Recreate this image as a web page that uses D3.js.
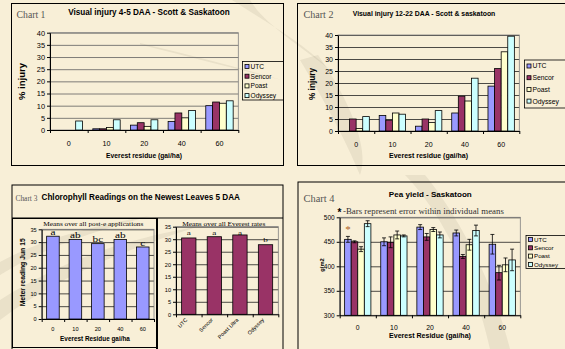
<!DOCTYPE html>
<html><head><meta charset="utf-8">
<script src="https://cdn.jsdelivr.net/npm/d3@7"></script>
<style>
html,body{margin:0;padding:0;background:#f8efd7;overflow:hidden;}
svg{display:block;}
</style></head><body>
<svg id="c" width="565" height="349"></svg>
<script>
// ---- data ----
const treatments = ["UTC", "Sencor", "Poast", "Odyssey"];
const treatmentFills = ["#9999ff", "#993366", "#ffffcc", "#ccffff"];
const residueRates = ["0", "10", "20", "40", "60"];

// Chart 1: visual injury 4-5 DAA (%)
const early_UTC = [0, 0.5, 2, 3.5, 10];
const early_Sencor = [0, 0.5, 3, 7, 11.5];
const early_Poast = [0, 1, 1.5, 5, 11];
const early_Odyssey = [3.7, 4.2, 4.2, 8, 12];

// Chart 2: visual injury 12-22 DAA (%)
const late_UTC = [0, 6.5, 2, 7.5, 18.7];
const late_Sencor = [5, 4.5, 5, 14.5, 26];
const late_Poast = [1, 7.5, 3.5, 12.5, 33];
const late_Odyssey = [6, 7, 8.5, 22, 39.5];

// Chart 3: chlorophyll meter readings
const chloroByRate = [32.3, 31, 29.4, 31, 28.1];
const chloroRateLetters = ["a", "ab", "bc", "ab", "c"];
const herbicides = ["UTC", "Sencor", "Poast Ultra", "Odyssey"];
const chloroByHerbicide = [30.5, 31, 31.7, 27.8];
const chloroHerbLetters = ["a", "a", "a", "b"];

// Chart 4: pea yield (g/m2) with error
const yield_UTC = [455, 450, 480, 468, 445];
const yield_Sencor = [450, 449, 460, 420, 387];
const yield_Poast = [435, 464, 475, 444, 403];
const yield_Odyssey = [487, 462, 464, 473, 413];
const yieldErr_UTC = [6, 8, 5, 6, 20];
const yieldErr_Sencor = [2, 11, 7, 4, 15];
const yieldErr_Poast = [5, 8, 4, 11, 14];
const yieldErr_Odyssey = [6, 2, 6, 11, 22];

const injuryTicks = [0, 5, 10, 15, 20, 25, 30, 35, 40];
const chloroTicks = [0, 5, 10, 15, 20, 25, 30, 35];
const yieldTicks = [300, 350, 400, 450, 500];

// ---- drawing ----
const SANS = "'Liberation Sans', Arial, sans-serif";
const SERIF = "'Liberation Serif', 'Times New Roman', serif";
const svg = d3.select("#c");

// soft background swooshes
const bg = svg.append("g").attr("fill", "#8a8070");
[
  "M232,0 C262,20 300,40 330,70 C300,45 265,25 250,0 Z",
  "M300,60 C330,110 350,150 360,175 C370,150 350,100 318,55 Z",
  "M0,300 C60,262 120,240 200,226 C130,248 60,275 0,320 Z",
  "M0,262 C40,240 90,226 150,216 C90,232 40,250 0,275 Z",
  "M405,175 C430,200 470,260 490,349 L510,349 C490,270 450,205 425,175 Z",
  "M140,43 C190,55 240,68 282,80 C240,70 190,57 140,44.5 Z"
].forEach(d => bg.append("path").attr("d", d).attr("opacity", 0.13));

function txt(g, x, y, s, size, opts = {}) {
  const t = g.append("text").attr("x", x).attr("y", y).text(s)
    .attr("font-family", opts.serif ? SERIF : SANS)
    .attr("font-size", size)
    .attr("font-weight", opts.bold ? "bold" : "normal")
    .attr("text-anchor", opts.anchor || "start")
    .attr("fill", opts.fill || "#000");
  if (opts.width) {
    const L = t.node().getComputedTextLength();
    t.attr("font-size", size * opts.width / L);
  }
  if (opts.stretchTo || opts.sx) {
    // keep the glyph height, widen horizontally
    const L = t.node().getComputedTextLength();
    const k = opts.sx || opts.stretchTo / L;
    t.attr("x", 0).attr("y", 0).attr("transform", `translate(${x},${y}) scale(${k},1)`);
  }
  return t;
}

function frame(g, x, y, w, h, sw = 1, stroke = "#000") {
  g.append("rect").attr("x", x).attr("y", y).attr("width", w).attr("height", h)
    .attr("fill", "none").attr("stroke", stroke).attr("stroke-width", sw);
}

// generic bar panel: series = [{name, values, fill, err}]
function barPanel(g, o) {
  const y = d3.scaleLinear().domain([o.ticks[0], o.ticks[o.ticks.length - 1]]).range([o.yBot, o.yTop]);
  const x = d3.scaleBand().domain(o.cats).range([o.x0, o.x1]);
  if (o.catPad) x.paddingInner(o.catPad).paddingOuter(o.catPad / 2);
  const xs = d3.scaleBand().domain(o.series.map(s => s.name)).range([0, x.bandwidth()])
    .paddingInner(0).paddingOuter(o.outer);

  // gridlines
  g.append("g").attr("transform", `translate(${o.x0},0)`)
    .call(d3.axisLeft(y).tickValues(o.ticks.slice(1)).tickSize(-(o.x1 - o.x0)).tickFormat(""))
    .call(a => a.select(".domain").remove())
    .selectAll("line").attr("stroke", o.grid || "#404040").attr("stroke-width", 0.8);
  // plot frame
  g.append("rect").attr("x", o.x0).attr("y", o.yTop).attr("width", o.x1 - o.x0)
    .attr("height", o.yBot - o.yTop).attr("fill", "none").attr("stroke", "#808080").attr("stroke-width", 0.8);

  // bars
  o.series.forEach(s => {
    const idx = s.values.map((v, i) => i).filter(i => s.values[i] > o.ticks[0]);
    g.append("g").selectAll("rect").data(idx).join("rect")
      .attr("x", i => x(o.cats[i]) + xs(s.name))
      .attr("y", i => y(s.values[i]))
      .attr("width", xs.bandwidth())
      .attr("height", i => o.yBot - y(s.values[i]))
      .attr("fill", s.fill).attr("stroke", "#000").attr("stroke-width", 0.8);
    if (s.err) {
      const eg = g.append("g").attr("stroke", "#000").attr("stroke-width", 0.8);
      idx.forEach(i => {
        const cx = x(o.cats[i]) + xs(s.name) + xs.bandwidth() / 2;
        const lo = y(s.values[i] - s.err[i]), hi = y(s.values[i] + s.err[i]);
        eg.append("line").attr("x1", cx).attr("x2", cx).attr("y1", lo).attr("y2", hi);
        eg.append("line").attr("x1", cx - 2).attr("x2", cx + 2).attr("y1", lo).attr("y2", lo);
        eg.append("line").attr("x1", cx - 2).attr("x2", cx + 2).attr("y1", hi).attr("y2", hi);
      });
    }
  });

  // y axis
  const ya = g.append("g").attr("transform", `translate(${o.x0},0)`)
    .call(d3.axisLeft(y).tickValues(o.ticks).tickSize(3).tickSizeOuter(0).tickPadding(o.yPad || 2));
  ya.attr("font-family", SANS).attr("font-size", o.yFont);
  ya.selectAll("path,line").attr("stroke", "#000");

  // x axis: boundary tick marks
  const xb = d3.scaleLinear().domain([0, o.cats.length]).range([o.x0, o.x1]);
  const xa = g.append("g").attr("transform", `translate(0,${o.yBot})`)
    .call(d3.axisBottom(xb).tickValues(d3.range(o.cats.length + 1)).tickSize(3).tickSizeOuter(0).tickFormat(""));
  xa.selectAll("path,line").attr("stroke", "#000");
  // category labels
  if (o.rotate) {
    o.cats.forEach(c => {
      txt(g, 0, 0, c, o.xFont, { anchor: "end" })
        .attr("transform", `translate(${x(c) + x.bandwidth() / 2 - 1},${o.yBot + o.xPad}) rotate(-45)`);
    });
  } else {
    const xl = g.append("g").attr("transform", `translate(0,${o.yBot})`)
      .call(d3.axisBottom(x).tickSize(0).tickPadding(o.xPad));
    xl.select(".domain").remove();
    xl.attr("font-family", SANS).attr("font-size", o.xFont);
  }
  return { x, y, xs };
}

function legend(g, x, y, w, h, pitch, fontSize, first) {
  g.append("rect").attr("x", x).attr("y", y).attr("width", w).attr("height", h)
    .attr("fill", "none").attr("stroke", "#000").attr("stroke-width", 0.8);
  treatments.forEach((t, i) => {
    const cy = first + i * pitch;
    g.append("rect").attr("x", x + 2.5).attr("y", cy - 2).attr("width", 4).attr("height", 4)
      .attr("fill", treatmentFills[i]).attr("stroke", "#000").attr("stroke-width", 0.8);
    txt(g, x + 8, cy + fontSize * 0.36, t, fontSize);
  });
}

function seriesOf(vals, errs) {
  return treatments.map((t, i) => ({ name: t, values: vals[i], fill: treatmentFills[i], err: errs ? errs[i] : null }));
}

// ---- Chart 1 ----
{
  const g = svg.append("g");
  frame(g, 11.5, 3.5, 272, 162);
  txt(g, 16.5, 18.3, "Chart 1", 8.5, { serif: true, fill: "#555", width: 29 });
  txt(g, 149, 15, "Visual injury 4-5 DAA - Scott & Saskatoon", 7, { bold: true, anchor: "middle", width: 162 });
  barPanel(g, {
    x0: 50, x1: 238.3, yTop: 32.7, yBot: 130, ticks: injuryTicks, cats: residueRates, outer: 0.75,
    series: seriesOf([early_UTC, early_Sencor, early_Poast, early_Odyssey]),
    yFont: 7.4, xFont: 7.2, xPad: 11, grid: "#606060"
  });
  txt(g, 144, 157.5, "Everest residue (gai/ha)", 6, { bold: true, anchor: "middle", width: 76 });
  txt(g, 0, 0, "% injury", 8, { bold: true, anchor: "middle", width: 37 })
    .attr("transform", "translate(24.5,81.5) rotate(-90)");
  legend(g, 242.5, 61.5, 41, 38.5, 9.7, 6.6, 66.5);
}

// ---- Chart 2 ----
{
  const g = svg.append("g");
  frame(g, 297.5, 3.5, 272, 162);
  txt(g, 303.5, 18.3, "Chart 2", 8.5, { serif: true, fill: "#555", width: 30 });
  txt(g, 424, 16, "Visual injury 12-22 DAA - Scott & saskatoon", 7, { bold: true, anchor: "middle", width: 142.6 });
  barPanel(g, {
    x0: 338, x1: 519.3, yTop: 35, yBot: 131, ticks: injuryTicks, cats: residueRates, outer: 0.75,
    series: seriesOf([late_UTC, late_Sencor, late_Poast, late_Odyssey]),
    yFont: 7, xFont: 7, xPad: 11.5, grid: "#202020"
  });
  txt(g, 428.5, 157.5, "Everest residue (gai/ha)", 6, { bold: true, anchor: "middle", width: 79 });
  txt(g, 0, 0, "% injury", 7, { bold: true, anchor: "middle", width: 32 })
    .attr("transform", "translate(315,84) rotate(-90)");
  legend(g, 524.5, 60, 44, 48, 11.7, 6.8, 66);
}

// ---- Chart 3 ----
{
  const g = svg.append("g");
  frame(g, 12, 185, 271, 170);
  g.append("line").attr("x1", 12).attr("x2", 283).attr("y1", 218).attr("y2", 218).attr("stroke", "#000");
  frame(g, 12.5, 218.5, 144.5, 129);
  g.append("line").attr("x1", 157).attr("x2", 157).attr("y1", 218).attr("y2", 349)
    .attr("stroke", "#000").attr("stroke-width", 2);
  txt(g, 15.5, 200.5, "Chart 3", 7, { serif: true, fill: "#555", width: 22 });
  txt(g, 41.5, 200, "Chlorophyll Readings on the Newest Leaves 5 DAA", 6.8, { bold: true, width: 199 });

  // left: means over all post-e applications
  const L = barPanel(g, {
    x0: 41.7, x1: 154, yTop: 229.3, yBot: 319, ticks: chloroTicks, cats: residueRates, outer: 0, catPad: 0.44,
    series: [{ name: "m", values: chloroByRate, fill: "#9999ff" }],
    yFont: 5.6, xFont: 5.6, xPad: 8, grid: "#202020"
  });
  txt(g, 93.3, 226.3, "Means over all post-e applications", 5.4, { serif: true, anchor: "middle", stretchTo: 100 });
  chloroRateLetters.forEach((s, i) => {
    txt(g, L.x(residueRates[i]) + L.x.bandwidth() / 2, L.y(chloroByRate[i]) - 1.3, s, 7.5, { serif: true, anchor: "middle", sx: 1.5 });
  });
  txt(g, 95, 340.5, "Everest Residue gai/ha", 6.5, { bold: true, anchor: "middle", width: 70 });
  txt(g, 0, 0, "Meter reading Jun 15", 5.8, { bold: true, anchor: "middle", width: 68 })
    .attr("transform", "translate(24.5,272.3) rotate(-90)");

  // right: means over all Everest rates
  const R = barPanel(g, {
    x0: 176, x1: 278.3, yTop: 226.7, yBot: 314.3, ticks: chloroTicks, cats: herbicides, outer: 0, catPad: 0.44,
    series: [{ name: "m", values: chloroByHerbicide, fill: "#993366" }],
    yFont: 5.6, xFont: 5.4, xPad: 6, grid: "#202020", rotate: true
  });
  txt(g, 223.7, 225.8, "Means over all Everest rates", 5.4, { serif: true, anchor: "middle", stretchTo: 83 });
  chloroHerbLetters.forEach((s, i) => {
    txt(g, R.x(herbicides[i]) + R.x.bandwidth() / 2, Math.max(R.y(chloroByHerbicide[i]) - 3, 234.5), s, 6.5, { serif: true, anchor: "middle", sx: 1.4 });
  });
}

// ---- Chart 4 ----
{
  const g = svg.append("g");
  frame(g, 298, 182, 280, 180);
  txt(g, 303.5, 201.5, "Chart 4", 8.5, { serif: true, fill: "#555", width: 31 });
  txt(g, 430.3, 196.5, "Pea yield - Saskatoon", 7, { bold: true, anchor: "middle", width: 83 });
  txt(g, 337.5, 215.5, "*", 10, { bold: true });
  txt(g, 343, 214, "-Bars represent error within individual means", 7, { serif: true, fill: "#333", width: 161 });
  const P = barPanel(g, {
    x0: 339.7, x1: 520.3, yTop: 217.3, yBot: 315.3, ticks: yieldTicks, cats: residueRates, outer: 0.75,
    series: seriesOf([yield_UTC, yield_Sencor, yield_Poast, yield_Odyssey],
      [yieldErr_UTC, yieldErr_Sencor, yieldErr_Poast, yieldErr_Odyssey]),
    yFont: 6.5, xFont: 6.8, xPad: 9.5, grid: "#202020"
  });
  // significance marker above the first UTC bar
  txt(g, P.x("0") + P.xs("UTC") + P.xs.bandwidth() / 2, P.y(yield_UTC[0] + yieldErr_UTC[0]) - 3, "*", 11,
    { serif: true, anchor: "middle", fill: "#b0601c" });
  txt(g, 430, 338.3, "Everest Residue (gai/ha)", 6, { bold: true, anchor: "middle", width: 82 });
  txt(g, 0, 0, "g/m2", 6, { bold: true, anchor: "middle", width: 13.5 })
    .attr("transform", "translate(323.5,265) rotate(-90)");
  legend(g, 526, 235.5, 44, 33, 8.3, 6.2, 239.5);
}
</script>
</body></html>
